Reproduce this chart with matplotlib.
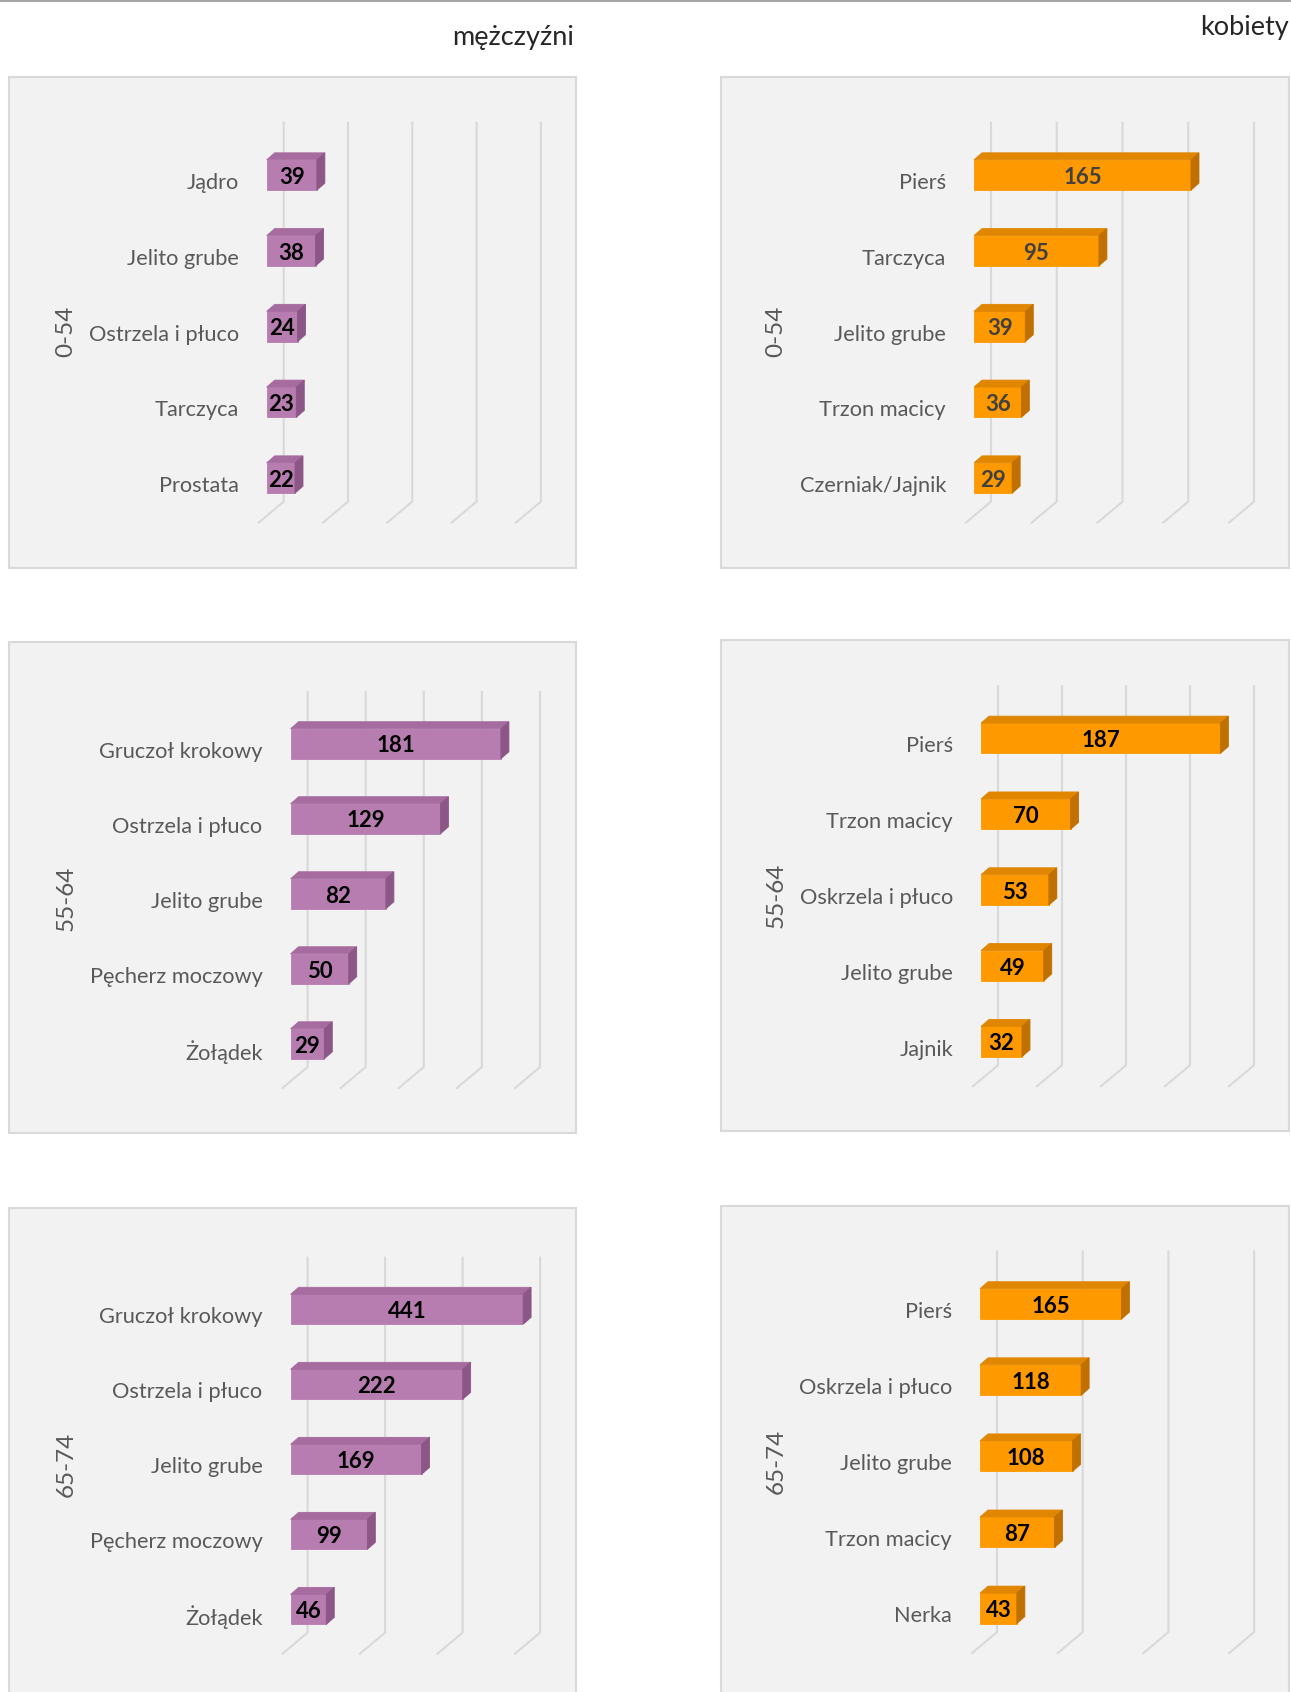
import matplotlib
matplotlib.use("Agg")
import matplotlib.pyplot as plt
from matplotlib.patches import Polygon, Rectangle
from matplotlib.transforms import offset_copy

# --------------------------------------------------
# Data
# --------------------------------------------------
age_groups = ["0-54", "55-64", "65-74"]

men_0_54_labels = ["Jądro", "Jelito grube", "Ostrzela i płuco", "Tarczyca", "Prostata"]
men_0_54_values = [39, 38, 24, 23, 22]
men_55_64_labels = ["Gruczoł krokowy", "Ostrzela i płuco", "Jelito grube", "Pęcherz moczowy", "Żołądek"]
men_55_64_values = [181, 129, 82, 50, 29]
men_65_74_labels = ["Gruczoł krokowy", "Ostrzela i płuco", "Jelito grube", "Pęcherz moczowy", "Żołądek"]
men_65_74_values = [441, 222, 169, 99, 46]

women_0_54_labels = ["Pierś", "Tarczyca", "Jelito grube", "Trzon macicy", "Czerniak/Jajnik"]
women_0_54_values = [165, 95, 39, 36, 29]
women_55_64_labels = ["Pierś", "Trzon macicy", "Oskrzela i płuco", "Jelito grube", "Jajnik"]
women_55_64_values = [187, 70, 53, 49, 32]
women_65_74_labels = ["Pierś", "Oskrzela i płuco", "Jelito grube", "Trzon macicy", "Nerka"]
women_65_74_values = [165, 118, 108, 87, 43]

axis_max = [200, 200, 300]
axis_step = [50, 50, 100]

# --------------------------------------------------
# Figure
# --------------------------------------------------
W, H = 1291, 1692
plt.rcParams["font.family"] = ["Lato", "DejaVu Sans"]
fig = plt.figure(figsize=(W / 100, H / 100), dpi=100)

TEXT = "#595959"
GRID = "#d9d9d9"

MEN = ("#B77DB0", "#A66B9F", "#8C5686")
WOMEN = ("#FF9900", "#E08600", "#C07000")

LABEL_SIZE = 15.7
AGE_SIZE = 17.5
VALUE_SIZE = 16


def add_frame(x0, y0, x1, y1):
    fig.patches.append(Rectangle((x0 / W, 1 - y1 / H), (x1 - x0) / W, (y1 - y0) / H,
                                 transform=fig.transFigure, facecolor="#f2f2f2",
                                 edgecolor="#d9d9d9", linewidth=1.5, zorder=-5))


def panel(labels, values, vmax, step, front_x, ppu, band_top, band_bot, colors,
          age, age_x, value_color):
    front, top, side = colors
    n = len(values)
    w = vmax * ppu
    h = band_bot - band_top
    sp = h / n
    ax = fig.add_axes([front_x / W, 1 - band_bot / H, w / W, h / H])
    ax.set_zorder(2)
    ax.set_xlim(0, vmax)
    ax.set_ylim(n - 0.5, -0.5)
    ax.axis("off")

    # offsets in data units (pixel -> data)
    back = (17 / ppu, -14.3 / sp)
    floor = (-8 / ppu, 6.7 / sp)
    depth = (8 / ppu, -7 / sp)

    # back wall gridlines + floor lines
    for t in range(0, vmax + 1, step):
        ax.plot([t + back[0], t + back[0], t + floor[0]],
                [-0.5 + back[1], n - 0.5 + back[1], n - 0.5 + floor[1]],
                color=GRID, lw=1.5, clip_on=False, zorder=1)

    bh = 0.4
    for i, v in enumerate(values):
        vd = min(v, vmax)
        ax.barh(i, vd, height=bh, left=0, color=front, edgecolor=front,
                linewidth=0.6, zorder=3)
        yt = i - bh / 2
        yb = i + bh / 2
        ax.add_patch(Polygon([(0, yt), (vd, yt), (vd + depth[0], yt + depth[1]),
                              (depth[0], yt + depth[1])], closed=True,
                             facecolor=top, edgecolor=top, lw=0.6, zorder=3, clip_on=False))
        ax.add_patch(Polygon([(vd, yt), (vd + depth[0], yt + depth[1]),
                              (vd + depth[0], yb + depth[1]), (vd, yb)], closed=True,
                             facecolor=side, edgecolor=side, lw=0.6, zorder=3, clip_on=False))
        ax.text(vd / 2, i + 0.03, str(v), ha="center", va="center", fontsize=VALUE_SIZE,
                fontweight="bold", color=value_color, zorder=4)

    lab_tr = offset_copy(ax.transData, fig=fig, x=-28, y=-8, units="dots")
    for i, lab in enumerate(labels):
        ax.text(0, i, lab, transform=lab_tr, ha="right", va="center",
                fontsize=LABEL_SIZE, color=TEXT, clip_on=False)

    yc = (band_top + band_bot) / 2 + 5
    fig.text(age_x / W, 1 - yc / H, age, rotation=90, ha="center", va="center",
             fontsize=AGE_SIZE, color=TEXT)


# frames
add_frame(9, 77, 576, 568)
add_frame(721, 77, 1289, 568)
add_frame(9, 642, 576, 1133)
add_frame(721, 640, 1289, 1131)
add_frame(9, 1208, 576, 1720)
add_frame(721, 1206, 1289, 1720)

# top rule and headers
fig.add_artist(plt.Line2D([0, 1], [1 - 1.5 / H, 1 - 1.5 / H], transform=fig.transFigure,
                          color="#a6a6a6", lw=1.5))
fig.text(574 / W, 1 - 38 / H, "mężczyźni", ha="right", va="center", fontsize=19.5, color="#262626")
fig.text(1289 / W, 1 - 27 / H, "kobiety", ha="right", va="center", fontsize=19.5, color="#262626")

# men
panel(men_0_54_labels, men_0_54_values, axis_max[0], axis_step[0],
      266.7, 1.286, 137.1, 515.9, MEN, age_groups[0], 66, "#000000")
panel(men_55_64_labels, men_55_64_values, axis_max[1], axis_step[1],
      290.6, 1.162, 706.2, 1081.3, MEN, age_groups[1], 66, "#000000")
panel(men_65_74_labels, men_65_74_values, axis_max[2], axis_step[2],
      290.6, 0.775, 1271.8, 1646.9, MEN, age_groups[2], 66, "#000000")

# women
panel(women_0_54_labels, women_0_54_values, axis_max[0], axis_step[0],
      974, 1.315, 137.1, 515.9, WOMEN, age_groups[0], 776, "#404040")
panel(women_55_64_labels, women_55_64_values, axis_max[1], axis_step[1],
      981, 1.28, 700.4, 1079.5, WOMEN, age_groups[1], 776, "#000000")
panel(women_65_74_labels, women_65_74_values, axis_max[2], axis_step[2],
      980, 0.857, 1265.9, 1646.4, WOMEN, age_groups[2], 776, "#000000")

fig.savefig("out.png", dpi=100, facecolor="white")
